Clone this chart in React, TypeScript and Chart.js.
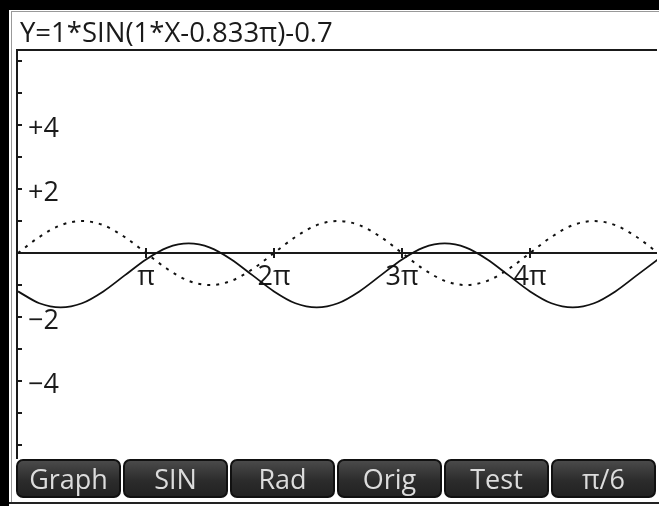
import React, { useEffect, useRef } from "react";
import { Chart, registerables } from "chart.js";

Chart.register(...registerables);

// x positions in units of π/6
const sixthsOfPi = [0, 1, 2, 3, 4, 5, 6, 7, 8, 9, 10, 11, 12, 13, 14, 15, 16, 17, 18, 19, 20, 21, 22, 23, 24, 25, 26, 27, 28, 29, 30];

// Y=1*SIN(1*X-0.833π)-0.7 (solid)
const transformedY = [
  -1.2, -1.57, -1.7, -1.57, -1.2, -0.7, -0.2, 0.17, 0.3, 0.17, -0.2, -0.7,
  -1.2, -1.57, -1.7, -1.57, -1.2, -0.7, -0.2, 0.17, 0.3, 0.17, -0.2, -0.7,
  -1.2, -1.57, -1.7, -1.57, -1.2, -0.7, -0.2,
];

// original SIN(X) (dotted)
const originalY = [
  0, 0.5, 0.87, 1, 0.87, 0.5, 0, -0.5, -0.87, -1, -0.87, -0.5,
  0, 0.5, 0.87, 1, 0.87, 0.5, 0, -0.5, -0.87, -1, -0.87, -0.5,
  0, 0.5, 0.87, 1, 0.87, 0.5, 0,
];

const xTickValues = [6, 12, 18, 24];
const xTickLabels = ["π", "2π", "3π", "4π"];
const yTickValues = [4, 2, -2, -4];
const yTickLabels = ["+4", "+2", "−2", "−4"];

const titleText = "Y=1*SIN(1*X-0.833π)-0.7";
const softkeys = ["Graph", "SIN", "Rad", "Orig", "Test", "π/6"];

const FONT = "'Open Sans', 'Noto Sans', 'DejaVu Sans', sans-serif";

const axesPlugin = {
  id: "hpAxes",
  beforeDatasetsDraw(chart: any) {
    const { ctx, chartArea, scales } = chart;
    const xs = scales.x;
    const ys = scales.y;
    const ax = chartArea.left - 1;
    const y0 = ys.getPixelForValue(0);
    ctx.save();
    ctx.strokeStyle = "#1a1a1a";
    ctx.lineWidth = 2;
    // top frame line
    ctx.beginPath();
    ctx.moveTo(ax - 1, chartArea.top);
    ctx.lineTo(chartArea.right, chartArea.top);
    ctx.stroke();
    // y axis line
    ctx.beginPath();
    ctx.moveTo(ax, chartArea.top);
    ctx.lineTo(ax, chartArea.bottom);
    ctx.stroke();
    // y ticks every unit
    for (let v = Math.ceil(ys.min); v <= Math.floor(ys.max); v++) {
      if (v === 0) continue;
      const py = Math.round(ys.getPixelForValue(v));
      ctx.beginPath();
      ctx.moveTo(ax, py);
      ctx.lineTo(ax + 5, py);
      ctx.stroke();
    }
    // x axis line
    ctx.beginPath();
    ctx.moveTo(ax, Math.round(y0));
    ctx.lineTo(chartArea.right, Math.round(y0));
    ctx.stroke();
    // x ticks
    xTickValues.forEach((v) => {
      const px = Math.round(xs.getPixelForValue(v));
      ctx.beginPath();
      ctx.moveTo(px, y0 - 5);
      ctx.lineTo(px, y0 + 5);
      ctx.stroke();
    });
    // labels
    ctx.fillStyle = "#1a1a1a";
    ctx.font = `27px ${FONT}`;
    ctx.textAlign = "center";
    ctx.textBaseline = "alphabetic";
    xTickValues.forEach((v, i) => {
      const px = xs.getPixelForValue(v);
      ctx.fillText(xTickLabels[i], px, y0 + 32);
    });
    ctx.textAlign = "left";
    ctx.textBaseline = "middle";
    yTickValues.forEach((v, i) => {
      const py = ys.getPixelForValue(v);
      ctx.fillText(yTickLabels[i], ax + 11, py + 4);
    });
    ctx.restore();
  },
};

export default function App() {
  const canvasRef = useRef<HTMLCanvasElement | null>(null);

  useEffect(() => {
    if (!canvasRef.current) return;
    const chart = new Chart(canvasRef.current, {
      type: "line",
      data: {
        datasets: [
          {
            label: titleText,
            data: sixthsOfPi.map((k, i) => ({ x: k, y: transformedY[i] })),
            borderColor: "#111",
            borderWidth: 1.8,
            pointRadius: 0,
            cubicInterpolationMode: "monotone",
            fill: false,
          },
          {
            label: "SIN(X)",
            data: sixthsOfPi.map((k, i) => ({ x: k, y: originalY[i] })),
            borderColor: "#111",
            borderWidth: 2,
            borderDash: [3, 6],
            pointRadius: 0,
            cubicInterpolationMode: "monotone",
            fill: false,
          },
        ],
      },
      options: {
        responsive: false,
        animation: false,
        devicePixelRatio: 1,
        layout: { padding: { left: 18, top: 50, right: 2, bottom: 47 } },
        plugins: { legend: { display: false }, tooltip: { enabled: false } },
        scales: {
          x: { type: "linear", min: 0, max: 29.95, display: false },
          y: { type: "linear", min: -6.4375, max: 6.344, display: false },
        },
      },
      plugins: [axesPlugin],
    } as any);
    return () => chart.destroy();
  }, []);

  return (
    <div
      style={{
        position: "absolute",
        left: 0,
        top: 0,
        width: 659,
        height: 506,
        background: "#fff",
        overflow: "hidden",
        fontFamily: FONT,
      }}
    >
      <canvas
        ref={canvasRef}
        width={659}
        height={506}
        style={{ position: "absolute", left: 0, top: 0, width: 659, height: 506 }}
      />
      <div style={{ position: "absolute", left: 0, top: 0, width: 659, height: 10, background: "#000" }} />
      <div style={{ position: "absolute", left: 0, top: 0, width: 9, height: 506, background: "#000" }} />
      <div style={{ position: "absolute", left: 11, top: 11, width: 648, height: 1, background: "#999" }} />
      <div style={{ position: "absolute", left: 11, top: 11, width: 1, height: 491, background: "#999" }} />
      <div style={{ position: "absolute", left: 9, top: 502, width: 650, height: 2, background: "#222" }} />
      <div
        style={{
          position: "absolute",
          left: 20,
          top: 17,
          fontSize: 27.5,
          lineHeight: "30px",
          color: "#1a1a1a",
          whiteSpace: "nowrap",
        }}
      >
        {titleText}
      </div>
      {softkeys.map((s, i) => (
        <div
          key={s}
          style={{
            position: "absolute",
            left: 16 + i * 107,
            top: 459,
            width: 105,
            height: 39,
            boxSizing: "border-box",
            border: "2px solid #111",
            borderRadius: 7,
            background: "linear-gradient(#4a4a4a, #2c2c2c 55%, #222)",
            color: "#dcdcdc",
            fontSize: 27,
            lineHeight: "35px",
            textAlign: "center",
            whiteSpace: "nowrap",
          }}
        >
          {s}
        </div>
      ))}
    </div>
  );
}
